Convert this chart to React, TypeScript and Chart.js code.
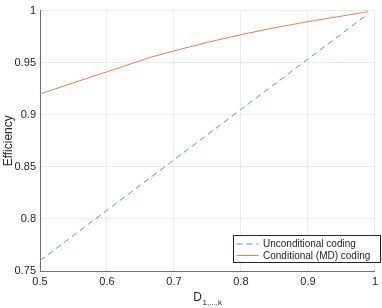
import React, { useEffect, useRef } from "react";
import { Chart, registerables } from "chart.js";

Chart.register(...registerables);

const xTicks = [0.5, 0.6, 0.7, 0.8, 0.9, 1];
const yTicks = [0.75, 0.8, 0.85, 0.9, 0.95, 1];

const uncondD = [0.5, 0.99];
const uncondEff = [0.76, 0.997];

const condD = [0.5, 0.6667, 0.7, 0.75, 0.8, 0.85, 0.9, 0.95, 0.99];
const condEff = [0.92, 0.9555, 0.9613, 0.9695, 0.9769, 0.9835, 0.9894, 0.9947, 0.999];

const seriesLabels = ["Unconditional coding", "Conditional (MD) coding"];
const xTitleMain = "D";
const xTitleSub = "1,...,k";
const yTitle = "Efficiency";

const FONT = "'Liberation Sans', Arial, Helvetica, sans-serif";
const TEXT = "#262626";

const titlesPlugin = {
  id: "titles",
  afterDraw(chart: any) {
    const { ctx, chartArea } = chart;
    ctx.save();
    ctx.fillStyle = TEXT;
    // y title
    ctx.translate(9, (chartArea.top + chartArea.bottom) / 2);
    ctx.rotate(-Math.PI / 2);
    ctx.font = `12px ${FONT}`;
    ctx.textAlign = "center";
    ctx.textBaseline = "middle";
    ctx.fillText(yTitle, 0, 0);
    ctx.restore();

    ctx.save();
    ctx.fillStyle = TEXT;
    ctx.font = `12px ${FONT}`;
    const wMain = ctx.measureText(xTitleMain).width;
    ctx.font = `8px ${FONT}`;
    const wSub = ctx.measureText(xTitleSub).width;
    const cx = (chartArea.left + chartArea.right) / 2;
    const x0 = cx - (wMain + wSub) / 2;
    ctx.textAlign = "left";
    ctx.textBaseline = "alphabetic";
    ctx.font = `12px ${FONT}`;
    ctx.fillText(xTitleMain, x0, 301);
    ctx.font = `8px ${FONT}`;
    ctx.fillText(xTitleSub, x0 + wMain + 0.5, 305);
    ctx.restore();

    // legend
    const bx = 233.5, by = 235.5, bw = 147, bh = 27;
    ctx.save();
    ctx.fillStyle = "#ffffff";
    ctx.fillRect(bx, by, bw, bh);
    ctx.strokeStyle = TEXT;
    ctx.lineWidth = 1;
    ctx.strokeRect(bx, by, bw, bh);
    chart.data.datasets.forEach((ds: any, i: number) => {
      const ly = by + 8.5 + i * 11.5;
      ctx.strokeStyle = ds.borderColor;
      ctx.lineWidth = ds.borderWidth;
      ctx.setLineDash(ds.borderDash || []);
      ctx.beginPath();
      ctx.moveTo(bx + 3, ly);
      ctx.lineTo(bx + 25, ly);
      ctx.stroke();
      ctx.setLineDash([]);
      ctx.fillStyle = TEXT;
      ctx.font = `10px ${FONT}`;
      ctx.textAlign = "left";
      ctx.textBaseline = "middle";
      ctx.fillText(ds.label, bx + 29.5, ly + 0.5);
    });
    ctx.restore();
  },
};

export default function App() {
  const ref = useRef<HTMLCanvasElement | null>(null);
  useEffect(() => {
    if (!ref.current) return;
    const chart = new Chart(ref.current, {
      type: "line",
      data: {
        datasets: [
          {
            label: seriesLabels[0],
            data: uncondD.map((x, i) => ({ x, y: uncondEff[i] })),
            borderColor: "#4a9ad6",
            borderWidth: 1,
            borderDash: [6, 4],
            pointRadius: 0,
            fill: false,
            tension: 0,
          },
          {
            label: seriesLabels[1],
            data: condD.map((x, i) => ({ x, y: condEff[i] })),
            borderColor: "#ec7e55",
            borderWidth: 1,
            pointRadius: 0,
            fill: false,
            tension: 0,
          },
        ],
      },
      options: {
        animation: false,
        responsive: false,
        maintainAspectRatio: false,
        layout: { padding: { top: 4, right: 1, left: 0, bottom: 0 } },
        plugins: { legend: { display: false }, tooltip: { enabled: false } },
        scales: {
          x: {
            type: "linear",
            min: 0.5,
            max: 1,
            afterBuildTicks: (s: any) => {
              s.ticks = xTicks.map((v) => ({ value: v }));
            },
            afterFit: (s: any) => {
              s.height = 37;
            },
            ticks: {
              color: TEXT,
              font: { family: FONT, size: 11 },
              padding: 4,
              maxRotation: 0,
              callback: (v: any) => String(parseFloat(Number(v).toFixed(2))),
            },
            grid: { color: "rgba(0,0,0,0.08)", drawTicks: false },
            border: { color: "#6e6e6e" },
          },
          y: {
            type: "linear",
            min: 0.75,
            max: 1,
            afterBuildTicks: (s: any) => {
              s.ticks = yTicks.map((v) => ({ value: v }));
            },
            afterFit: (s: any) => {
              s.width = 40;
            },
            ticks: {
              color: TEXT,
              font: { family: FONT, size: 11 },
              padding: 4,
              callback: (v: any) => String(parseFloat(Number(v).toFixed(2))),
            },
            grid: { color: "rgba(0,0,0,0.08)", drawTicks: false },
            border: { color: "#6e6e6e" },
          },
        },
      },
      plugins: [titlesPlugin],
    });
    return () => chart.destroy();
  }, []);
  return (
    <div style={{ position: "fixed", left: 0, top: 0, width: 382, height: 308, background: "#fff" }}>
      <canvas ref={ref} width={382} height={308} style={{ width: 382, height: 308 }} />
    </div>
  );
}
